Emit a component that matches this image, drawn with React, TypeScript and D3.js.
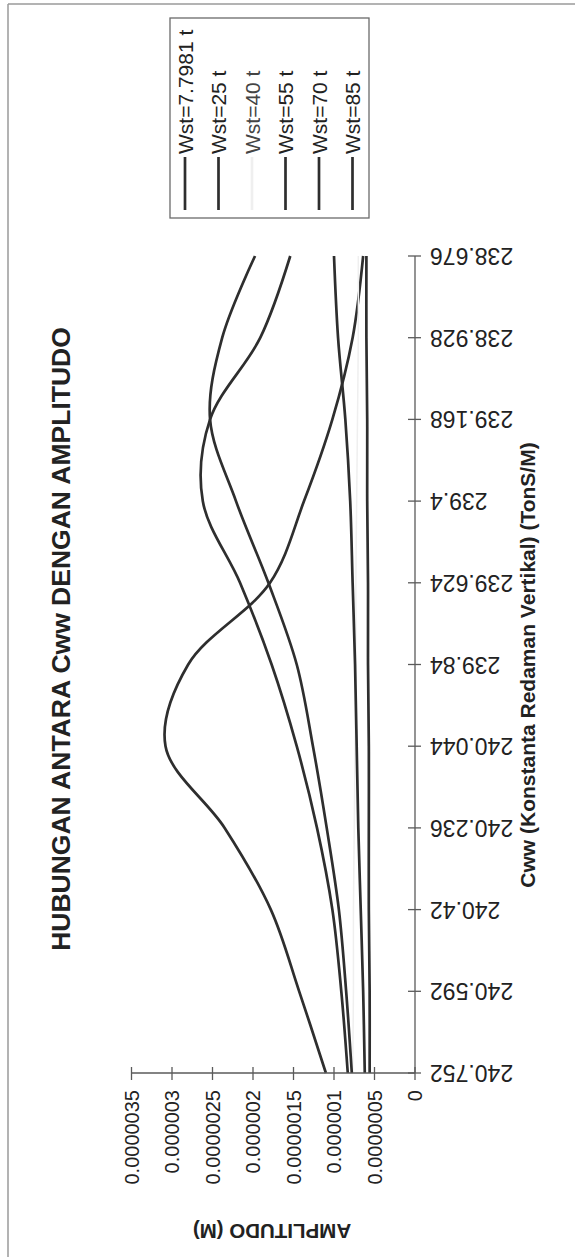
import React from "react";
import * as d3 from "d3";

const categories = ["240.752", "240.592", "240.42", "240.236", "240.044", "239.84", "239.624", "239.4", "239.168", "238.928", "238.676"];
const valueTicks = [0, 0.0000005, 0.000001, 0.0000015, 0.000002, 0.0000025, 0.000003, 0.0000035];
const valueTickLabels = ["0", "0.0000005", "0.000001", "0.0000015", "0.000002", "0.0000025", "0.000003", "0.0000035"];

const seriesNames = ["Wst=7.7981 t", "Wst=25 t", "Wst=40 t", "Wst=55 t", "Wst=70 t", "Wst=85 t"];
const wst7 = [1.10e-6, 1.43e-6, 1.78e-6, 2.35e-6, 3.08e-6, 2.80e-6, 1.79e-6, 1.37e-6, 1.02e-6, 0.77e-6, 0.64e-6];
const wst25 = [0.83e-6, 0.91e-6, 1.02e-6, 1.21e-6, 1.46e-6, 1.77e-6, 2.16e-6, 2.62e-6, 2.53e-6, 1.91e-6, 1.54e-6];
const wst40 = [0.77e-6, 0.76e-6, 0.76e-6, 0.75e-6, 0.74e-6, 0.73e-6, 0.73e-6, 0.72e-6, 0.71e-6, 0.70e-6, 0.70e-6];
const wst55 = [0.78e-6, 0.85e-6, 0.94e-6, 1.09e-6, 1.26e-6, 1.46e-6, 1.81e-6, 2.21e-6, 2.53e-6, 2.38e-6, 1.975e-6];
const wst70 = [0.62e-6, 0.64e-6, 0.67e-6, 0.70e-6, 0.72e-6, 0.74e-6, 0.77e-6, 0.80e-6, 0.86e-6, 0.95e-6, 1.00e-6];
const wst85 = [0.56e-6, 0.56e-6, 0.57e-6, 0.57e-6, 0.57e-6, 0.58e-6, 0.58e-6, 0.59e-6, 0.59e-6, 0.60e-6, 0.60e-6];
const seriesValues = [wst7, wst25, wst40, wst55, wst70, wst85];
const seriesColors = ["#2e2e2e", "#2e2e2e", "#efefef", "#2e2e2e", "#2e2e2e", "#2e2e2e"];

const FONT = "'Liberation Sans', Arial, sans-serif";

export default function App() {
  const W = 575, H = 1257;
  const xV = d3.scaleLinear().domain([0, 0.0000035]).range([415, 131.5]);
  const yC = d3.scalePoint<string>().domain(categories).range([1073, 256]);
  const line = d3.line<number>()
    .x((d) => xV(d))
    .y((_, i) => yC(categories[i]) as number)
    .curve(d3.curveCatmullRom.alpha(0.5));

  const axisColor = "#5a5a5a";
  const textColor = "#222";
  const legendX0 = 185, legendStep = 33.5;

  return (
    <svg width={W} height={H} style={{ position: "absolute", left: 0, top: 0, display: "block", background: "#fff" }} fontFamily={FONT}>
      {/* page frame */}
      <line x1={8} y1={4} x2={575} y2={4} stroke="#9a9a9a" strokeWidth={1.5} />
      <line x1={8} y1={4} x2={8} y2={1257} stroke="#9a9a9a" strokeWidth={1.5} />

      {/* title */}
      <text x={70} y={639} transform="rotate(-90,70,639)" textAnchor="middle" fontSize={26.5} fontWeight="bold" fill={textColor}>
        HUBUNGAN ANTARA Cww DENGAN AMPLITUDO
      </text>

      {/* category axis title */}
      <text x={535} y={665} transform="rotate(-90,535,665)" textAnchor="middle" fontSize={21} fontWeight="bold" fill={textColor}>
        Cww (Konstanta Redaman Vertikal) (TonS/M)
      </text>

      {/* value axis title */}
      <text x={272} y={1224} transform="rotate(180,272,1224)" textAnchor="middle" fontSize={20.5} fontWeight="bold" fill={textColor}>
        AMPLITUDO (M)
      </text>

      {/* series */}
      {seriesValues.map((vals, s) => (
        <path key={s} d={line(vals) || ""} fill="none" stroke={seriesColors[s]} strokeWidth={s === 2 ? 1.5 : 2.7} strokeLinejoin="round" />
      ))}

      {/* category axis */}
      <line x1={415} y1={256} x2={415} y2={1073} stroke={axisColor} strokeWidth={1.3} />
      {categories.map((c) => {
        const y = yC(c) as number;
        return (
          <g key={c}>
            <line x1={408} x2={421} y1={y} y2={y} stroke={axisColor} strokeWidth={1.3} />
            <text x={430} y={y - 8} transform={`rotate(180,430,${y - 8})`} textAnchor="end" fontSize={23} fill={textColor}>
              {c}
            </text>
          </g>
        );
      })}

      {/* value axis */}
      <line x1={131.5} y1={1073} x2={415} y2={1073} stroke={axisColor} strokeWidth={1.3} />
      {valueTicks.map((v, i) => {
        const x = xV(v);
        return (
          <g key={i}>
            <line x1={x} x2={x} y1={1067} y2={1080} stroke={axisColor} strokeWidth={1.3} />
            <text x={x + 7} y={1090} transform={`rotate(-90,${x + 7},1090)`} textAnchor="end" fontSize={20} fill={textColor}>
              {valueTickLabels[i]}
            </text>
          </g>
        );
      })}

      {/* legend */}
      <rect x={170} y={18} width={199} height={200} fill="#fff" stroke="#6a6a6a" strokeWidth={1.3} />
      {seriesNames.map((name, i) => {
        const x = legendX0 + i * legendStep;
        return (
          <g key={name}>
            <line x1={x} x2={x} y1={210} y2={157} stroke={seriesColors[i]} strokeWidth={2.7} />
            <text x={x + 7.5} y={154} transform={`rotate(-90,${x + 7.5},154)`} textAnchor="start" fontSize={21} fill={i === 2 ? "#444" : textColor}>
              {name}
            </text>
          </g>
        );
      })}
    </svg>
  );
}
